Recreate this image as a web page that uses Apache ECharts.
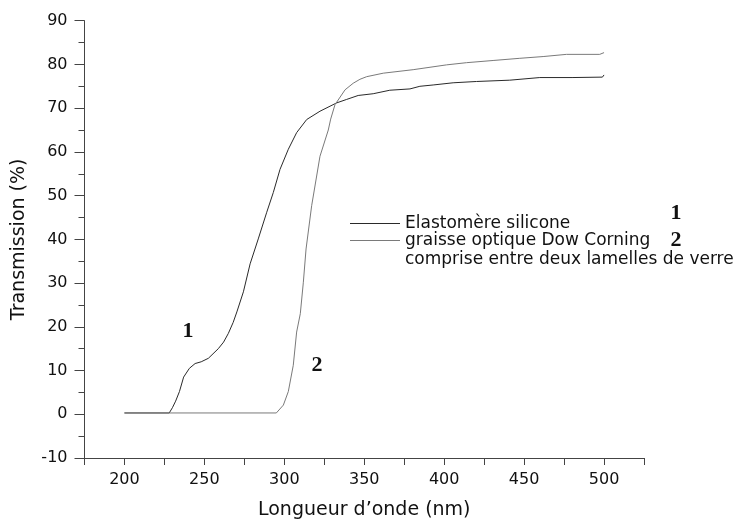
<!DOCTYPE html>
<html>
<head>
<meta charset="utf-8">
<script src="https://cdn.jsdelivr.net/npm/echarts@6/dist/echarts.min.js"></script>
<style>
html,body{margin:0;padding:0;background:#fff;}
#chart{width:734px;height:525px;}
</style>
</head>
<body>
<div id="chart"></div>
<script>
// ---- data ----
var seriesNames = ['Elastomère silicone', 'graisse optique Dow Corning'];
var legendExtra = 'comprise entre deux lamelles de verre';
var xLabels = [200, 250, 300, 350, 400, 450, 500];

var x1 = [200, 228, 230, 232, 234.4, 237, 240.6, 244.2, 248, 252.5, 258.7, 262, 265, 268, 270.3, 274.4, 278.6, 283.7, 289, 293.1, 297.3, 302.5, 307.7, 314, 322.3, 332.7, 339, 346.2, 355.6, 366, 378.6, 384.8, 393.1, 405.6, 420.2, 441, 459.8, 480, 499, 500];
var y1 = [0.3, 0.3, 1.5, 3, 5.2, 8.5, 10.5, 11.6, 12, 12.8, 15, 16.5, 18.5, 21, 23.4, 28, 34.4, 40.1, 46.2, 50.7, 56, 60.6, 64.4, 67.4, 69.3, 71.2, 72, 72.9, 73.3, 74.1, 74.4, 75, 75.3, 75.8, 76.1, 76.4, 77, 77, 77.1, 77.6];

var x2 = [200, 295, 299.4, 302.5, 305.6, 307.7, 310, 311.9, 313.6, 317.1, 322.3, 327.5, 329, 331.7, 338, 343.1, 347.3, 351.5, 361.9, 380.6, 401.5, 414, 430.6, 447.3, 461.9, 476.5, 497.3, 500];
var y2 = [0.3, 0.3, 2.1, 5.2, 11.2, 18.8, 23, 30.2, 37.8, 47.7, 59, 65, 67.5, 70.8, 74.2, 75.7, 76.6, 77.2, 78, 78.8, 79.9, 80.4, 80.9, 81.4, 81.8, 82.3, 82.3, 82.7];

function pairs(xs, ys) { return xs.map(function (x, i) { return [x, ys[i]]; }); }

var chart = echarts.init(document.getElementById('chart'), null, {renderer: 'canvas'});
var font = 'DejaVu Sans, Verdana, sans-serif';
var serif = 'bold 22px Liberation Serif, Times New Roman, serif';
var axisColor = '#444';
var textColor = '#111';

chart.setOption({
  animation: false,
  backgroundColor: '#fff',
  grid: {left: 84.5, right: 90, top: 20.7, bottom: 65},
  legend: {
    orient: 'vertical',
    left: 345,
    top: 210,
    itemWidth: 50,
    itemHeight: 1,
    itemGap: 0,
    icon: 'rect',
    textStyle: {fontFamily: font, fontSize: 17, color: textColor},
    data: seriesNames
  },
  xAxis: {
    type: 'value', min: 175, max: 525, interval: 25,
    axisLine: {show: true, onZero: false, lineStyle: {color: axisColor, width: 1}},
    axisTick: {show: true, length: 7, lineStyle: {color: axisColor}},
    axisLabel: {
      margin: 14, fontFamily: font, fontSize: 16, color: textColor,
      showMinLabel: true, showMaxLabel: true,
      formatter: function (v) { return xLabels.indexOf(v) >= 0 ? String(v) : ''; }
    },
    splitLine: {show: false},
    name: 'Longueur d\u2019onde (nm)', nameLocation: 'middle', nameGap: 43,
    nameTextStyle: {fontFamily: font, fontSize: 19, color: textColor}
  },
  yAxis: {
    type: 'value', min: -10, max: 90, interval: 10,
    axisLine: {show: true, onZero: false, lineStyle: {color: axisColor, width: 1}},
    axisTick: {show: true, length: 10, lineStyle: {color: axisColor}},
    minorTick: {show: true, splitNumber: 2, length: 6, lineStyle: {color: axisColor}},
    axisLabel: {margin: 17, fontFamily: font, fontSize: 16, color: textColor},
    splitLine: {show: false},
    name: 'Transmission (%)', nameLocation: 'middle', nameGap: 56,
    nameTextStyle: {fontFamily: font, fontSize: 19, color: textColor}
  },
  series: [{
    name: seriesNames[0], type: 'line', data: pairs(x1, y1),
    symbol: 'none', showSymbol: false,
    lineStyle: {color: '#2a2a2a', width: 1}, itemStyle: {color: '#2a2a2a'}
  }, {
    name: seriesNames[1], type: 'line', data: pairs(x2, y2),
    symbol: 'none', showSymbol: false,
    lineStyle: {color: '#7a7a7a', width: 1}, itemStyle: {color: '#7a7a7a'}
  }],
  graphic: [
    {type: 'text', x: 405, y: 260, style: {text: legendExtra, font: '17px ' + font, fill: textColor, textVerticalAlign: 'middle'}},
    {type: 'text', x: 188, y: 331, style: {text: '1', font: serif, fill: textColor, textAlign: 'center', textVerticalAlign: 'middle'}},
    {type: 'text', x: 317, y: 365, style: {text: '2', font: serif, fill: textColor, textAlign: 'center', textVerticalAlign: 'middle'}},
    {type: 'text', x: 676, y: 213, style: {text: '1', font: serif, fill: textColor, textAlign: 'center', textVerticalAlign: 'middle'}},
    {type: 'text', x: 676, y: 240, style: {text: '2', font: serif, fill: textColor, textAlign: 'center', textVerticalAlign: 'middle'}}
  ]
});
</script>
</body>
</html>
